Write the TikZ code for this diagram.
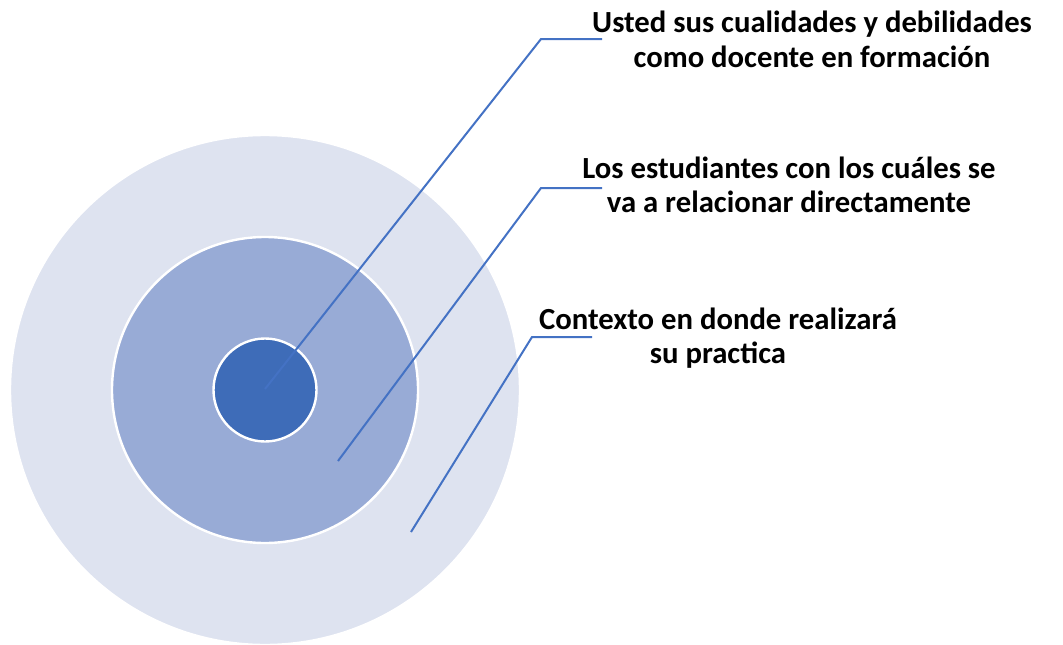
\documentclass[tikz,border=0pt]{standalone}
\usepackage{fontspec}
\setmainfont{Carlito}
\definecolor{outerc}{RGB}{222,227,240}
\definecolor{midc}{RGB}{152,171,214}
\definecolor{innerc}{RGB}{62,108,184}
\definecolor{linec}{RGB}{68,114,196}
\begin{document}
\begin{tikzpicture}[x=1pt,y=-1pt,
  ring/.style={circle,draw=white,line width=2.4pt,inner sep=0pt},
  leader/.style={draw=linec,line width=2pt},
  lbl/.style={align=center,font=\fontsize{30.7}{34.5}\selectfont\bfseries,inner sep=0pt}]
\useasboundingbox (0,0) rectangle (1063,645);
\node[ring,fill=outerc,minimum size=510pt] (outer) at (265,390) {};
\node[ring,fill=midc,minimum size=306pt] (mid) at (265,390) {};
\node[ring,fill=innerc,minimum size=103pt] (inner) at (265,390) {};
\coordinate (s1) at (265,389);
\coordinate (b1) at (541,39);
\coordinate (e1) at (602,39);
\coordinate (s2) at (338,461);
\coordinate (b2) at (541,188);
\coordinate (e2) at (602,188);
\coordinate (s3) at (411,532);
\coordinate (b3) at (532,337);
\coordinate (e3) at (592,337);
\draw[leader] (s1) -- (b1) -- (e1);
\draw[leader] (s2) -- (b2) -- (e2);
\draw[leader] (s3) -- (b3) -- (e3);
\node[lbl] (t1) at (812,39.5) {Usted sus cualidades y debilidades\\como docente en formación};
\node[lbl] (t2) at (789,185) {Los estudiantes con los cuáles se\\va a relacionar directamente};
\node[lbl] (t3) at (718,338) {Contexto en donde realizará\\su practica};
\end{tikzpicture}
\end{document}
